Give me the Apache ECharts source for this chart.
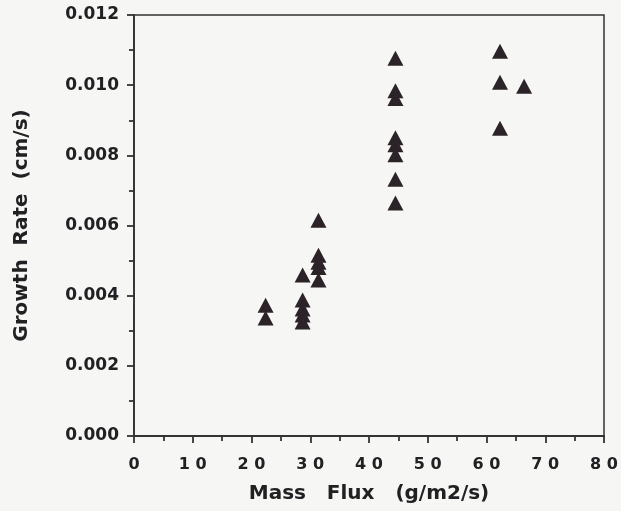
<!DOCTYPE html>
<html>
<head>
<meta charset="utf-8">
<script src="https://cdn.jsdelivr.net/npm/echarts@6/dist/echarts.min.js"></script>
<style>
  html, body { margin: 0; padding: 0; background: #f6f6f4; }
  #chart { width: 621px; height: 511px; }
</style>
</head>
<body>
<div id="chart"></div>
<script>
// mass flux (g/m2/s) and growth rate (cm/s)
var massFlux = [22.4, 22.4,
                28.7, 28.7, 28.7, 28.7, 28.7,
                31.4, 31.4, 31.4, 31.4, 31.4,
                44.5, 44.5, 44.5, 44.5, 44.5, 44.5, 44.5, 44.5,
                62.3, 62.3, 62.3, 66.4];
var growthRate = [0.00373, 0.00336,
                  0.00459, 0.00388, 0.00362, 0.00345, 0.00325,
                  0.00615, 0.00515, 0.00495, 0.00480, 0.00445,
                  0.01077, 0.00984, 0.00962, 0.00850, 0.00830, 0.00802, 0.00732, 0.00664,
                  0.01097, 0.01008, 0.00877, 0.00997];

var points = massFlux.map(function (x, i) { return [x, growthRate[i]]; });

var textColor = '#222022';
var lineColor = '#333333';
var nameFont = { fontFamily: 'DejaVu Sans', fontWeight: 'bold', fontSize: 20, color: textColor };

var chart = echarts.init(document.getElementById('chart'));
var option = {
    backgroundColor: '#f6f6f4',
    grid: {
        left: 134, right: 17, top: 15, bottom: 75,
        show: true,
        borderColor: lineColor,
        borderWidth: 1.5,
        backgroundColor: 'transparent'
    },
    xAxis: {
        type: 'value',
        min: 0, max: 80, interval: 10,
        name: 'Mass   Flux   (g/m2/s)',
        nameLocation: 'middle',
        nameGap: 48,
        nameTextStyle: nameFont,
        axisLine: { lineStyle: { color: lineColor, width: 1.8 } },
        axisTick: { inside: false, length: 7, lineStyle: { color: lineColor, width: 1.8 } },
        minorTick: { show: true, splitNumber: 2, length: 5, lineStyle: { color: lineColor, width: 1.8 } },
        splitLine: { show: false },
        axisLabel: {
            margin: 21,
            fontFamily: 'DejaVu Sans', fontWeight: 'bold', fontSize: 16, color: textColor,
            formatter: function (v) { return String(v).split('').join(' '); }
        }
    },
    yAxis: {
        type: 'value',
        min: 0, max: 0.012, interval: 0.002,
        name: 'Growth  Rate  (cm/s)',
        nameLocation: 'middle',
        nameGap: 102,
        nameTextStyle: nameFont,
        axisLine: { lineStyle: { color: lineColor, width: 1.8 } },
        axisTick: { inside: false, length: 7, lineStyle: { color: lineColor, width: 1.8 } },
        minorTick: { show: true, splitNumber: 2, length: 5, lineStyle: { color: lineColor, width: 1.8 } },
        splitLine: { show: false },
        axisLabel: {
            margin: 15,
            fontFamily: 'DejaVu Sans', fontWeight: 'bold', fontSize: 17, color: textColor,
            formatter: function (v) { return v.toFixed(3); }
        }
    },
    series: [{
        type: 'scatter',
        symbol: 'triangle',
        symbolSize: [16, 15],
        itemStyle: { color: '#2b2327', opacity: 1 },
        data: points
    }]
};
chart.setOption(option);
</script>
</body>
</html>
